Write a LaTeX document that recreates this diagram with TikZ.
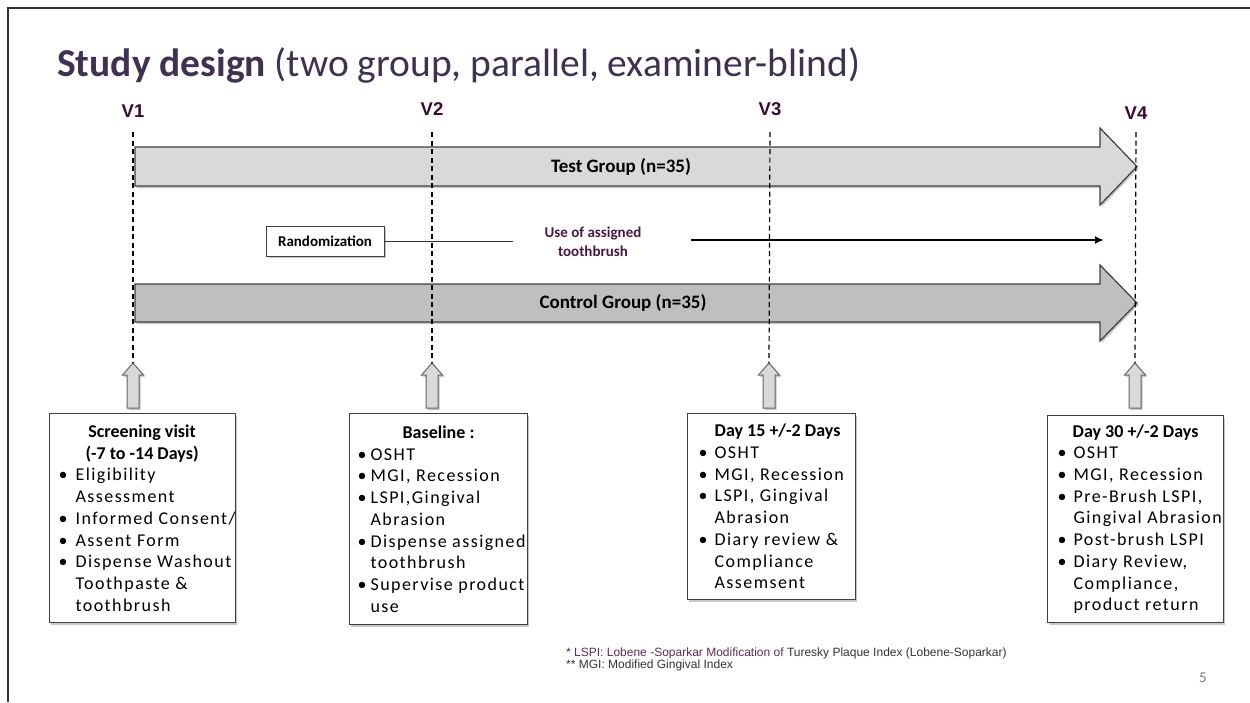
\documentclass[tikz,border=0pt]{standalone}
\usepackage{fontspec}
\setmainfont{Carlito}
\newfontfamily\arialf{Liberation Sans}
\newfontfamily\boxfont{Carlito}[LetterSpace=8]
\usetikzlibrary{shadows,arrows.meta}
\definecolor{titlecol}{HTML}{3F3151}
\definecolor{vcol}{HTML}{3B0A30}
\definecolor{usecol}{HTML}{4B1645}
\definecolor{fnpurple}{HTML}{5E2A5A}
\definecolor{fngray}{HTML}{333333}
\definecolor{boxgray}{HTML}{3F3F3F}
\definecolor{testfill}{HTML}{D9D9D9}
\definecolor{ctrlfill}{HTML}{BFBFBF}
\definecolor{framecol}{HTML}{333333}
\newlength\bulx \newlength\txtx
\newcommand\TL[1]{\hbox to\hsize{\hss\normalfont\bfseries #1\hss}}
\newcommand\BI[1]{\hbox{\rlap{\kern\bulx\normalfont •}\kern\txtx #1}}
\newcommand\BC[1]{\hbox{\kern\txtx #1}}
\tikzset{
  shd/.style={drop shadow={shadow xshift=1.5pt,shadow yshift=-2pt,opacity=0.3,fill=black!70}},
  infobox/.style={draw=boxgray,line width=1.1pt,fill=white,inner sep=0pt,anchor=north west,shd},
  vlab/.style={font=\arialf\bfseries\fontsize{18.5pt}{20pt}\selectfont,text=vcol,inner sep=0pt,anchor=base},
  vdash/.style={draw=black,line width=1.2pt,dash pattern=on 5pt off 3.5pt},
  bigarrow/.style={draw=boxgray,line width=1.2pt,shd},
  uparrow/.style={draw=boxgray!80,line width=1pt,fill=testfill,shd},
  grouplab/.style={font=\bfseries\fontsize{19pt}{22pt}\selectfont,inner sep=0pt},
  randbox/.style={draw=boxgray,line width=1pt,fill=white,minimum width=118pt,minimum height=30pt,inner sep=0pt,
    font=\bfseries\fontsize{15pt}{18pt}\selectfont,shd},
  uselab/.style={font=\bfseries\fontsize{15pt}{19pt}\selectfont,text=usecol,align=center,inner sep=0pt},
  fn/.style={font=\arialf\fontsize{12pt}{13pt}\selectfont,text=fngray,inner sep=0pt,anchor=base west},
}
\begin{document}
\begin{tikzpicture}[x=1pt,y=-1pt]
\useasboundingbox (0,0) rectangle (1250,702);
\fill[white] (0,0) rectangle (1250,702);
% frame
\draw[framecol,line width=2pt] (7,8) -- (1250,8);
\draw[framecol,line width=1.6pt] (8,8) -- (8,702);
% title
\node[anchor=base west,inner sep=0pt,text=titlecol,font=\fontsize{39.5pt}{44pt}\selectfont] (title) at (57,76)
  {\textbf{Study design} (two group, parallel, examiner-blind)};
% V labels
\node[vlab] (v1) at (133,117) {V1};
\node[vlab] (v2) at (432,115) {V2};
\node[vlab] (v3) at (770,115) {V3};
\node[vlab] (v4) at (1136,119) {V4};
\coordinate (dtop) at (0,132);
% big arrows
\path[bigarrow,fill=testfill] (135,147) -- (1100,147) -- (1100,128) -- (1137,166.5) -- (1100,205) -- (1100,186) -- (135,186) -- cycle;
\node[grouplab] (test) at (621,167) {Test Group (n=35)};
\path[bigarrow,fill=ctrlfill] (135,284) -- (1100,284) -- (1100,265) -- (1137,303) -- (1100,341) -- (1100,322) -- (135,322) -- cycle;
\node[grouplab] (ctrl) at (623,303) {Control Group (n=35)};
% up arrows
\foreach \xx/\nm in {133/t1,432/t2,769/t3,1135/t4}{
  \path[uparrow] (\xx,363) -- (\xx+10.5,375) -- (\xx+6,375) -- (\xx+6,408) -- (\xx-6,408) -- (\xx-6,375) -- (\xx-10.5,375) -- cycle;
  \coordinate (\nm) at (\xx,363);
}
% dashed lines
\draw[vdash] (v1.base |- dtop) -- (t1);
\draw[vdash] (v2.base |- dtop) -- (t2);
\draw[vdash] (v3.base |- dtop) -- (t3);
\draw[vdash] (v4.base |- dtop) -- (t4);
% randomization
\node[randbox] (rand) at (325,241) {Randomization};
\node[uselab] (use) at (593,242) {Use of assigned\\toothbrush};
\coordinate (aend) at (1104,240);
\draw[line width=0.8pt,black!80] (rand.east) -- ([xshift=-31pt]use.west |- rand.east);
\draw[line width=1.8pt,-{Latex[length=9pt,width=8pt]}] ([xshift=49pt]use.east |- aend) -- (aend);
% info boxes
\node[infobox,minimum width=185pt,minimum height=209pt] (scr) at (49,413) {\vbox{\hsize=185pt
  \boxfont\fontsize{18pt}{21.7pt}\selectfont\bulx=9pt\txtx=26pt
  \TL{Screening visit}\TL{(-7 to -14 Days)}
  \BI{Eligibility}\BC{Assessment}\BI{Informed Consent/}\BI{Assent Form}
  \BI{Dispense Washout}\BC{Toothpaste \&}\BC{toothbrush}}};
\node[infobox,minimum width=178pt,minimum height=211pt] (base) at (349,413) {\vbox{\hsize=178pt
  \boxfont\fontsize{18pt}{21.7pt}\selectfont\bulx=8pt\txtx=21pt
  \TL{Baseline :}
  \BI{OSHT}\BI{MGI, Recession}\BI{LSPI,Gingival}\BC{Abrasion}
  \BI{Dispense assigned}\BC{toothbrush}\BI{Supervise product}\BC{use}}};
\node[infobox,minimum width=168pt,minimum height=186pt] (d15) at (687,413) {\vbox{\hsize=168pt
  \boxfont\fontsize{18pt}{21.7pt}\selectfont\bulx=11pt\txtx=27pt
  \TL{\kern12pt Day 15 +/-2 Days}
  \BI{OSHT}\BI{MGI, Recession}\BI{LSPI, Gingival}\BC{Abrasion}
  \BI{Diary review \&}\BC{Compliance}\BC{Assemsent}}};
\node[infobox,minimum width=176pt,minimum height=207pt] (d30) at (1047,415) {\vbox{\hsize=176pt
  \boxfont\fontsize{18pt}{21.7pt}\selectfont\bulx=10pt\txtx=26pt
  \TL{Day 30 +/-2 Days}
  \BI{OSHT}\BI{MGI, Recession}\BI{Pre-Brush LSPI,}\BC{Gingival Abrasion}
  \BI{Post-brush LSPI}\BI{Diary Review,}\BC{Compliance,}\BC{product return}}};
% footnotes
\node[fn] (fn1) at (566,656) {* \textcolor{fnpurple}{LSPI: Lobene -Soparkar Modification of} Turesky Plaque Index (Lobene-Soparkar)};
\node[fn] (fn2) at (566,668) {** MGI: Modified Gingival Index};
% page number
\node[inner sep=0pt,anchor=base,text=black!50,font=\fontsize{15pt}{18pt}\selectfont] (pg) at (1203,682) {5};
\end{tikzpicture}
\end{document}
